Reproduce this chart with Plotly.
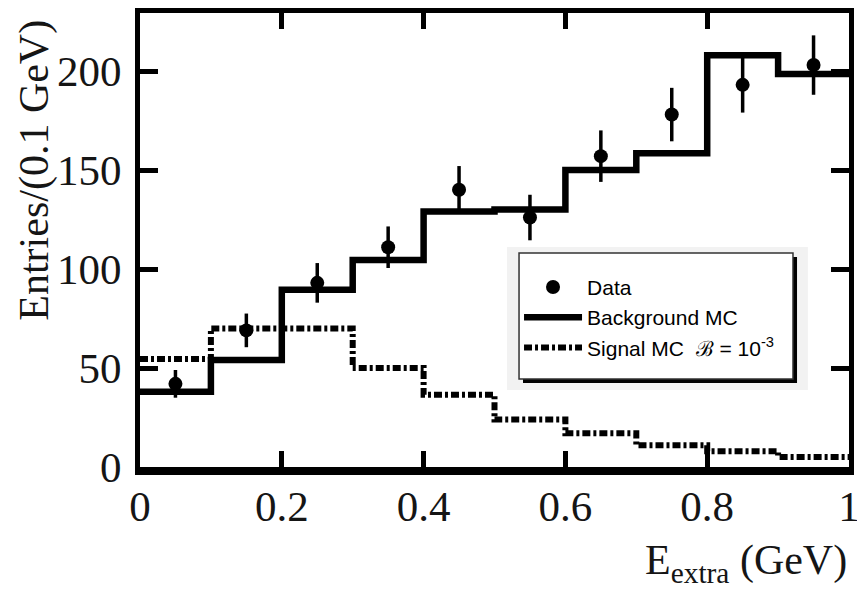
import plotly.graph_objects as go

# ---- data ----
bin_edges = [0.0, 0.1, 0.2, 0.3, 0.4, 0.5, 0.6, 0.7, 0.8, 0.9, 1.0]
bin_centers = [0.05, 0.15, 0.25, 0.35, 0.45, 0.55, 0.65, 0.75, 0.85, 0.95]
data_counts = [42, 69, 93, 111, 140, 126, 157, 178, 193, 203]
data_errors = [7, 8.5, 10, 10.5, 12, 11.5, 13, 13.5, 14, 15]
background_mc = [38, 54, 89.5, 104.5, 129, 130, 150, 158.5, 208, 198.5]
signal_mc = [54.5, 70, 70, 50, 36.5, 24, 17, 11, 8, 5]

x_tickvals = [0, 0.2, 0.4, 0.6, 0.8, 1.0]
x_ticktext = ["0", "0.2", "0.4", "0.6", "0.8", "1"]
y_tickvals = [0, 50, 100, 150, 200]
y_ticktext = ["0", "50", "100", "150", "200"]

serif = "Liberation Serif"

fig = go.Figure()

# step histograms: repeat last value to close last bin
fig.add_trace(go.Scatter(
    x=bin_edges, y=signal_mc + [signal_mc[-1]],
    mode="lines", line=dict(shape="hv", color="black", width=6, dash="8px,3px,3px,3px"),
    name="Signal MC  \u212C = 10<sup>-3</sup>",
))
fig.add_trace(go.Scatter(
    x=bin_edges, y=background_mc + [background_mc[-1]],
    mode="lines", line=dict(shape="hv", color="black", width=6.5),
    name="Background MC",
))
fig.add_trace(go.Scatter(
    x=bin_centers, y=data_counts, mode="markers",
    marker=dict(color="black", size=14, symbol="circle"),
    error_y=dict(type="data", array=data_errors, color="black", thickness=3.5, width=0),
    name="Data",
))

# legend box decorations
shapes = [
    dict(type="rect", xref="paper", yref="paper", x0=0.5176, x1=0.942, y0=0.1696, y1=0.4846,
         fillcolor="#f2f2f2", line=dict(width=0), layer="above"),
    dict(type="rect", xref="paper", yref="paper", x0=0.5402, x1=0.9267, y0=0.185, y1=0.4626,
         fillcolor="black", line=dict(width=0), layer="above"),
    dict(type="rect", xref="paper", yref="paper", x0=0.5346, x1=0.921, y0=0.1938, y1=0.4714,
         fillcolor="white", line=dict(width=1.5, color="#333"), layer="above"),
]

fig.update_layout(
    width=857, height=581,
    margin=dict(l=132, r=16, t=5, b=122),
    paper_bgcolor="white", plot_bgcolor="white",
    shapes=shapes,
    showlegend=True,
    legend=dict(
        x=0.5346, y=0.441, xanchor="left", yanchor="top",
        bgcolor="rgba(0,0,0,0)", borderwidth=0,
        font=dict(family="Liberation Sans", size=21, color="black"),
        itemwidth=58, traceorder="reversed",
    ),
    xaxis=dict(
        range=[0, 1], tickvals=x_tickvals, ticktext=x_ticktext,
        showgrid=False, zeroline=False, automargin=False,
        showline=True, linecolor="black", linewidth=8, mirror="allticks",
        ticks="inside", ticklen=16, tickwidth=5, tickcolor="black",
        tickfont=dict(family=serif, size=43, color="#151515"),
        ticklabelstandoff=-6,
    ),
    yaxis=dict(
        range=[0, 229.3], tickvals=y_tickvals, ticktext=y_ticktext,
        showgrid=False, zeroline=False, automargin=False,
        showline=True, linecolor="black", linewidth=5, mirror="allticks",
        ticks="inside", ticklen=18, tickwidth=5, tickcolor="black",
        tickfont=dict(family=serif, size=43, color="#151515"),
        ticklabelstandoff=5,
    ),
    annotations=[
        dict(text="Entries/(0.1 GeV)", xref="paper", yref="paper",
             x=-0.15, y=0.654, xanchor="center", yanchor="middle", textangle=-90,
             showarrow=False, font=dict(family=serif, size=42, color="#151515")),
        dict(text="E<sub>extra</sub> (GeV)", xref="paper", yref="paper",
             x=1.0, y=-0.15, xanchor="right", yanchor="top",
             showarrow=False, font=dict(family=serif, size=42, color="#151515")),
    ],
)

fig.write_html("out.html")
